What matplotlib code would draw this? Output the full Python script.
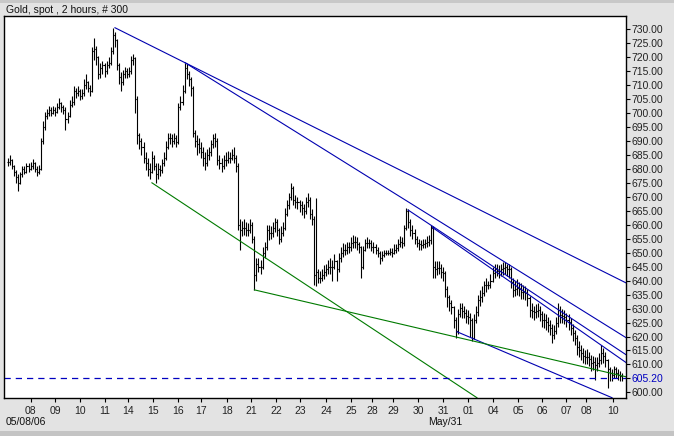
import matplotlib
matplotlib.use("Agg")
import matplotlib.pyplot as plt
import numpy as np

title = "Gold, spot , 2 hours, # 300"
last_price = 605.20

close = [
682.5, 683, 681, 679, 677, 675, 678, 680, 679, 681,
680, 681, 682, 680, 679, 680, 690, 695, 699, 700,
701, 700, 701, 700.5, 702, 703.5, 702, 701, 698, 699,
703, 704, 708, 707, 708, 706, 707, 710, 711, 709,
708, 722, 723, 720, 714, 716, 717, 715, 717, 718,
722, 728, 726, 717, 713, 711, 714, 715, 714, 715,
719, 719.5, 705, 692, 690, 688, 684, 682, 680, 679,
684, 681, 678, 680, 679.5, 682, 684, 688, 691, 691,
690, 691, 689.5, 702, 704, 708, 716, 714, 712, 709,
693, 690, 689, 687.5, 686, 684, 682, 685, 686, 689,
691, 690, 683, 682, 681, 683, 683, 684, 684, 685,
684, 681, 660, 658, 659, 659, 658, 658, 660, 655,
642, 646, 645, 645, 650, 652, 658, 657, 657, 659,
661, 658, 655, 657, 659, 664, 667, 670, 673, 669,
668, 668, 667, 666, 665, 668, 669, 664, 662, 642,
643, 641, 641, 642, 643, 644, 645, 645, 645, 647,
644, 648, 650, 651, 651, 652, 652, 653.5, 654, 654,
653, 652, 645, 651, 653.5, 653.5, 653.5, 652, 652, 651,
650, 648, 649, 650, 650, 650, 650.3, 650, 651, 651.7,
653, 654, 653.5, 659, 665, 661, 658, 657, 655, 653.5,
653, 652.8, 653, 653.5, 654, 654.6, 659, 645, 644, 644.5,
644.6, 643, 642.9, 637, 634, 632, 630.7, 626, 622, 628,
630.3, 629, 628.5, 627.5, 627, 626, 619.5, 626, 628.7, 633,
634, 635.6, 638.5, 638.5, 638.5, 640, 642.8, 644, 643.5, 643.3,
644, 644.6, 645, 644, 644, 639.6, 636.7, 637, 637.5, 637,
636, 636, 635.6, 633.8, 629.5, 629, 628.7, 629, 629.5, 628,
626, 626, 625.2, 624, 623, 620.7, 622, 625, 629.5, 627.8,
627.5, 627, 626, 625.2, 623, 621.3, 619.6, 616.4, 615, 614.2,
613, 612.8, 612.8, 612, 610.6, 611, 609.9, 610.5, 611.7, 614.2,
613, 611.7, 608.2, 607, 606.4, 608.2, 607, 606.4, 605.7, 605.2,
]

high = [
684, 685, 683.5, 681.5, 679.5, 678, 679, 681, 681, 682,
682, 682.5, 683.5, 682.5, 681, 681.5, 691, 697, 700.5, 701.5,
702.5, 702, 702.5, 702, 703.5, 705.5, 704, 703, 702, 700.5,
704.5, 706, 709.5, 709, 709.5, 708.5, 708.5, 712, 714, 711.5,
710, 723.5, 727, 724, 720.5, 718, 718.5, 718, 718.5, 720,
723.5, 730.5, 729, 726.5, 718, 714.5, 715.5, 716.5, 716, 716.5,
720.5, 721, 720, 706, 693, 691, 689.5, 686, 684, 682,
686.5, 685, 682, 682, 681.5, 683.5, 686, 690, 693, 693,
692.5, 693, 692, 703.5, 706, 710, 718, 717.5, 715, 713,
709.5, 694, 692, 691, 689.5, 688, 686, 687, 688, 690.5,
692.5, 693, 691, 685, 684, 685, 686, 686.5, 686, 687,
688, 685, 682, 662, 661.5, 662, 661, 660.5, 662, 661,
656, 648, 648, 647.5, 652, 654, 660, 660, 659.5, 661,
662.5, 662, 659, 659.5, 661, 666, 669, 671.5, 675, 674,
670.5, 670, 669, 668.5, 667.5, 670, 671.5, 670, 665.5, 663,
669.5, 644, 643.5, 644, 645.5, 646, 647.5, 648, 647.5, 649.5,
647.5, 650, 652, 653.5, 653, 654, 654, 655.5, 656.5, 656,
655.5, 654, 652.5, 652.5, 655, 655.5, 655, 654.5, 654, 653,
652, 650.5, 650.5, 651, 651, 651, 651.5, 651.5, 653, 653,
655, 656, 655.5, 660, 666, 665.5, 662, 660, 658.5, 656,
655, 654.5, 655, 655, 656, 656.5, 660, 659.5, 647, 647,
647, 646, 645, 643.5, 638, 635, 633, 631, 627, 630,
632, 632, 631, 630, 629.5, 628.5, 626.5, 628, 631, 635,
636.5, 638, 640, 641, 640, 642.5, 645, 646, 646, 645.5,
646, 646.5, 646.5, 646, 646, 645, 641, 640, 640.5, 639.5,
639, 638.5, 638, 637, 634.5, 632, 631, 631.5, 632, 631,
629, 628.5, 628, 627, 626, 624.5, 624, 627, 632, 631,
630, 629.5, 628.5, 628, 626.5, 624.5, 622.5, 620.5, 618.5, 617,
616, 615, 615.5, 614.5, 613.5, 613, 612.5, 612.5, 614, 617,
616, 614.5, 612, 609, 608.5, 609.5, 609, 608.5, 607.5, 607,
]

low = [
681, 681.5, 680, 677.5, 675, 672, 674.5, 677, 678, 678.5,
679, 679.5, 680, 679, 677.5, 678, 679.5, 689, 694, 698,
699, 699, 699.5, 699, 700, 701.5, 700.5, 699.5, 694, 696.5,
698.5, 702, 703, 705.5, 706, 704.5, 705, 706, 708.5, 707.5,
706, 707.5, 719, 717, 712, 712.5, 714, 713, 714, 716,
717, 721, 723.5, 715.5, 710.5, 708, 710, 712.5, 712.5, 713,
714, 717, 700, 689, 687, 685, 682, 679.5, 677.5, 676.5,
678.5, 679.5, 675, 676.5, 677.5, 678.5, 681, 683, 687, 689,
688, 689, 688, 689, 701, 703, 707, 712, 709.5, 706,
691.5, 688, 685, 685.5, 684, 681, 679.5, 681, 683, 684.5,
687.5, 688, 681.5, 680, 679, 680, 681, 682, 682, 683,
682, 679, 658, 651, 656, 656.5, 656, 656, 657, 653.5,
636.5, 640, 643, 642.5, 644, 648, 651, 654.5, 655, 655.5,
657.5, 656, 653, 654, 656, 658, 663, 665.5, 669, 667,
666, 665.5, 664.5, 663.5, 662.5, 664, 666.5, 662, 660, 638.5,
638, 639, 639, 640, 640.5, 641.5, 642.5, 642.5, 640, 644,
640, 643, 646.5, 648.5, 649, 649.5, 650, 650.5, 651.5, 651.5,
651, 650, 641, 644, 650.5, 651.5, 651.5, 650.5, 650, 649.5,
648.5, 646, 647, 648.5, 649, 649, 649, 648.5, 649.5, 650,
650.5, 652, 651.5, 652.5, 658, 659, 656, 655, 653, 652,
651, 651, 651.5, 651.5, 652, 652.5, 653, 641, 641, 642,
642.5, 641, 640, 634, 630.5, 629, 628, 623, 619.5, 621,
627, 626.5, 626.5, 625, 624.5, 620, 618.5, 619, 625, 627.5,
631, 632.5, 634.5, 636, 637, 637.5, 639.5, 641, 641.5, 641,
641.5, 642, 642.5, 641.5, 641, 637.5, 634, 634.5, 635, 634.5,
633.5, 633.5, 633, 631, 627, 626.5, 626, 626.5, 627, 625.5,
623.5, 623, 622.5, 621.5, 620.5, 617.8, 619, 621, 623.5, 625,
625, 624.5, 623.5, 622.5, 620.5, 618.5, 617, 613.5, 612.5, 611.5,
610.5, 610, 610, 609.5, 607.5, 608, 604.5, 607.5, 609, 610,
610.5, 609, 601.7, 604, 604, 605, 605, 604.5, 604, 604,
]

# tick labels (day numbers) and their bar positions
tick_pos = [11, 23, 35, 47, 58.5, 70.6, 82.8, 94, 106.7, 118.4, 130.5, 142.2,
            154.9, 167.1, 177.3, 187.5, 199.7, 211.9, 224.1, 236.2, 248.4,
            260.1, 271.8, 281.5, 294.7]
tick_lab = ["08", "09", "10", "11", "14", "15", "16", "17", "18", "21", "22",
            "23", "24", "25", "28", "29", "30", "31", "01", "04", "05", "06",
            "07", "08", "10"]
yticks = [600] + list(range(610, 731, 5))

# trend lines: (bar0, price0, bar1, price1)
blue_lines = [
    (52.1, 730.5, 301.0, 639.2),
    (86.2, 718.0, 301.0, 619.6),
    (194.8, 665.3, 301.0, 613.5),
    (206.8, 659.0, 301.0, 610.7),
    (218.7, 621.7, 294.2, 598.1),
]
green_lines = [
    (70.1, 675.0, 228.4, 598.1),
    (120.0, 636.7, 301.0, 605.6),
]

W, H = 674, 436
fig = plt.figure(figsize=(W / 100, H / 100), dpi=100)
fig.patch.set_facecolor("#E3E3E3")
font = ["Liberation Sans", "DejaVu Sans"]

ax = fig.add_axes([4 / W, 1 - 398 / H, (626 - 4) / W, (398 - 16) / H])
ax.set_facecolor("white")
ax.set_xlim(-1.95, 301.0)
ax.set_ylim(598.0, 734.7)

n = len(close)
x = np.arange(n)
opn = [close[0]] + close[:-1]
ax.vlines(x, low, high, color="black", lw=0.8)
ax.hlines(opn, x - 0.5, x, color="black", lw=0.8)
ax.hlines(close, x, x + 0.5, color="black", lw=0.8)

for (x0, y0, x1, y1) in blue_lines:
    ax.plot([x0, x1], [y0, y1], color="#0000B0", lw=0.8)
for (x0, y0, x1, y1) in green_lines:
    ax.plot([x0, x1], [y0, y1], color="#007A00", lw=0.8)
ax.axhline(last_price, color="#0000C0", lw=0.9, ls=(0, (5, 4)))

ax.yaxis.tick_right()
ax.set_yticks(yticks + [last_price])
ax.set_yticklabels([f"{v:.2f}" for v in yticks] + [f"{last_price:.2f}"],
                   fontsize=7.5, family=font, color="#222222")
ax.get_yticklabels()[-1].set_color("#0000C0")
ax.set_xticks(tick_pos)
ax.set_xticklabels(tick_lab, fontsize=7.5, family=font, color="#222222")
ax.tick_params(axis="y", direction="out", length=3, width=0.8, pad=1)
ax.tick_params(axis="x", direction="out", length=3, width=0.8, pad=3)
for s in ax.spines.values():
    s.set_linewidth(1.0)
    s.set_color("black")

fig.text(6 / W, 1 - 10 / H, title, fontsize=7.5, family=font, va="center", ha="left", color="#111111")
fig.text(6 / W, 1 - 422 / H, "05/08/06", fontsize=7.5, family=font, va="center", ha="left", color="#111111")
fig.text(428 / W, 1 - 422 / H, "May/31", fontsize=7.5, family=font, va="center", ha="left", color="#111111")

# darker bands at top and bottom edges
fig.add_artist(plt.Rectangle((0, 0), 1, 5 / H, transform=fig.transFigure, fc="#C4C4C4", ec="none"))
fig.add_artist(plt.Rectangle((0, 1 - 3 / H), 1, 3 / H, transform=fig.transFigure, fc="#C8C8C8", ec="none"))

fig.savefig("out.png", dpi=100, facecolor=fig.get_facecolor())
